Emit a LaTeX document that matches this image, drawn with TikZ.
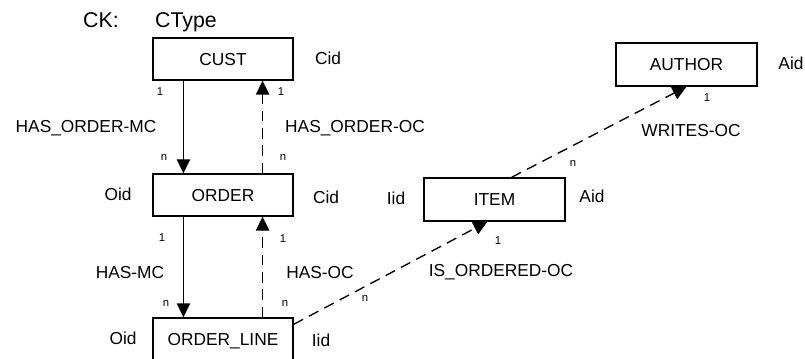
\documentclass[tikz,border=0pt]{standalone}
\usepackage{fontspec}
\setmainfont{Liberation Sans}
\usetikzlibrary{arrows.meta,calc}

\begin{document}
\begin{tikzpicture}[x=0.75pt,y=-0.75pt]

\tikzset{
  ent/.style  = {draw, line width=1pt, minimum width=105pt, minimum height=31.5pt,
                 inner sep=0pt, text height=9.3pt, text depth=0pt,
                 font=\fontsize{13}{15}\selectfont},
  wide/.style = {ent, minimum width=105.75pt, minimum height=32.25pt},
  key/.style  = {font=\fontsize{13}{15}\selectfont, inner sep=0pt,
                 text height=9.3pt, text depth=0pt},
  head/.style = {key, font=\fontsize{16}{18}\selectfont, text height=11.5pt},
  card/.style = {font=\fontsize{8.5}{10}\selectfont, inner sep=0pt,
                 text height=6.1pt, text depth=0pt},
  must/.style = {-{Triangle[length=10.5pt,width=10pt]}, line width=1pt},
  opt/.style  = {must, dash pattern=on 8pt off 5pt},
}

\useasboundingbox (0,0) rectangle (805,359);

% entities
\node[ent]  (cust)   at (223,59)      {CUST};
\node[ent]  (order)  at (223,195)     {ORDER};
\node[ent]  (oline)  at (223,339)     {ORDER\_LINE};
\node[wide] (item)   at (494.5,199.5) {ITEM};
\node[wide] (author) at (686.5,64.5)  {AUTHOR};

% keys
\node[head] (ck)     at (101,20) {CK:};
\node[head] (ctype)  at (186,20) {CType};
\node[key] (custk)  at (328,58) {Cid};
\node[key] (ordk1)  at (118,194) {Oid};
\node[key] (ordk2)  at (326,197) {Cid};
\node[key] (itemk1) at (396,198) {Iid};
\node[key] (itemk2) at (592,196) {Aid};
\node[key] (lnk1)   at (123,338) {Oid};
\node[key] (lnk2)   at (321,340) {Iid};
\node[key] (authk)  at (791,63)  {Aid};

% relationships
\draw[must] ($(cust.south west)!0.22!(cust.south east)$) -- ($(order.north west)!0.22!(order.north east)$);
\draw[opt]  ($(order.north west)!0.78!(order.north east)$) -- ($(cust.south west)!0.78!(cust.south east)$);
\draw[must] ($(order.south west)!0.22!(order.south east)$) -- ($(oline.north west)!0.22!(oline.north east)$);
\draw[opt]  ($(oline.north west)!0.78!(oline.north east)$) -- ($(order.south west)!0.78!(order.south east)$);
\draw[opt]  ($(oline.north east)+(0,7)$) -- ($(item.south west)!0.45!(item.south east)$);
\draw[opt]  ($(item.north west)!0.62!(item.north east)$) -- (author.south);

\node[key] (r1) at (86,126)  {HAS\_ORDER-MC};
\node[key] (r2) at (355,126) {HAS\_ORDER-OC};
\node[key] (r3) at (130,272) {HAS-MC};
\node[key] (r4) at (320,272) {HAS-OC};
\node[key] (r5) at (501,270) {IS\_ORDERED-OC};
\node[key] (r6) at (691,130) {WRITES-OC};

% cardinalities
\node[card] (c1)  at (160,91)  {1};
\node[card] (c2)  at (281,91)  {1};
\node[card] (c3)  at (164,156) {n};
\node[card] (c4)  at (283,156) {n};
\node[card] (c5)  at (162,237) {1};
\node[card] (c6)  at (283,238) {1};
\node[card] (c7)  at (166,302) {n};
\node[card] (c8)  at (285,302) {n};
\node[card] (c9)  at (365,297) {n};
\node[card] (c10) at (498,240) {1};
\node[card] (c11) at (573,162) {n};
\node[card] (c12) at (707,97)  {1};
\end{tikzpicture}
\end{document}
